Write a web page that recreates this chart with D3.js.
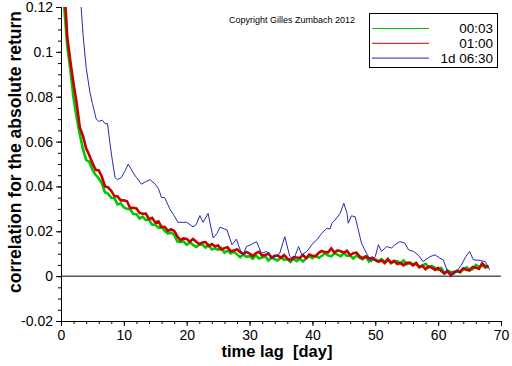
<!DOCTYPE html>
<html>
<head>
<meta charset="utf-8">
<script src="https://cdn.jsdelivr.net/npm/d3@7"></script>
<style>
body { margin: 0; background: #fff; }
svg { display: block; font-family: "Liberation Sans", Arial, sans-serif; }
</style>
</head>
<body>
<svg></svg>
<script>
// lag grid of the two fine series, in days
var lagStart = 0.5, lagStep = 0.5;

// 00:03 series (green)
var green = [
0.1203,0.1025,0.0918,0.0793,0.0706,0.0631,0.0566,0.0518,0.0510,0.0475,
0.0452,0.0436,0.0414,0.0374,0.0367,0.0349,0.0347,0.0320,0.0325,0.0306,
0.0300,0.0298,0.0277,0.0276,0.0257,0.0265,0.0250,0.0252,0.0229,0.0229,
0.0217,0.0221,0.0202,0.0190,0.0194,0.0185,0.0155,0.0152,0.0155,0.0140,
0.0151,0.0139,0.0130,0.0140,0.0141,0.0128,0.0139,0.0119,0.0124,0.0118,
0.0126,0.0105,0.0114,0.0101,0.0109,0.0097,0.0084,0.0097,0.0086,0.0089,
0.0078,0.0093,0.0079,0.0083,0.0089,0.0070,0.0083,0.0075,0.0070,0.0085,
0.0073,0.0075,0.0063,0.0078,0.0067,0.0078,0.0065,0.0079,0.0089,0.0080,
0.0092,0.0081,0.0091,0.0102,0.0092,0.0088,0.0102,0.0096,0.0088,0.0103,
0.0090,0.0092,0.0079,0.0092,0.0081,0.0075,0.0087,0.0065,0.0077,0.0074,
0.0068,0.0076,0.0062,0.0076,0.0057,0.0065,0.0067,0.0057,0.0070,0.0053,
0.0060,0.0052,0.0059,0.0042,0.0048,0.0055,0.0039,0.0045,0.0037,0.0028,
0.0036,0.0013,0.0019,0.0020,0.0012,0.0025,0.0016,0.0030,0.0039,0.0030,
0.0031,0.0050,0.0041,0.0048,0.0038,0.0047
];

// 01:00 series (red)
var red = [
0.1306,0.1067,0.0956,0.0857,0.0771,0.0662,0.0625,0.0570,0.0539,0.0505,
0.0474,0.0471,0.0443,0.0400,0.0396,0.0380,0.0357,0.0355,0.0338,0.0338,
0.0334,0.0304,0.0305,0.0302,0.0282,0.0278,0.0279,0.0254,0.0260,0.0239,
0.0244,0.0219,0.0220,0.0202,0.0209,0.0202,0.0178,0.0161,0.0168,0.0166,
0.0153,0.0166,0.0153,0.0143,0.0150,0.0152,0.0134,0.0143,0.0133,0.0137,
0.0118,0.0125,0.0129,0.0111,0.0114,0.0120,0.0107,0.0099,0.0108,0.0101,
0.0090,0.0102,0.0108,0.0092,0.0094,0.0101,0.0083,0.0091,0.0092,0.0082,
0.0094,0.0079,0.0071,0.0085,0.0083,0.0082,0.0094,0.0080,0.0096,0.0091,
0.0088,0.0104,0.0112,0.0107,0.0106,0.0124,0.0105,0.0115,0.0111,0.0104,
0.0113,0.0093,0.0102,0.0105,0.0088,0.0080,0.0088,0.0078,0.0082,0.0071,
0.0064,0.0071,0.0058,0.0075,0.0060,0.0068,0.0054,0.0059,0.0048,0.0059,
0.0059,0.0048,0.0057,0.0039,0.0046,0.0031,0.0043,0.0038,0.0028,0.0037,
0.0023,0.0012,0.0024,0.0003,0.0019,0.0022,0.0020,0.0035,0.0028,0.0025,
0.0041,0.0038,0.0032,0.0057,0.0044,0.0041
];

// 1d 06:30 series (blue)
var blueLag = [3.0,3.5,4.0,4.6,5.0,5.6,6.0,6.6,7.0,7.4,7.8,8.2,8.6,9.0,9.6,10.2,10.7,11.1,11.5,12.0,
12.8,13.4,14.2,15.0,15.5,16.0,16.5,17.3,18.0,18.6,19.3,20.0,21.0,21.5,22.1,22.6,23.4,24.2,24.8,25.3,
26.0,26.4,27.2,27.9,28.5,29.0,29.5,30.2,31.1,31.9,32.7,33.8,34.8,35.6,36.4,37.0,37.8,38.3,39.1,40.1,
40.7,41.5,42.3,42.8,43.1,43.6,44.4,45.0,45.5,45.7,46.2,46.8,47.3,47.8,48.6,49.4,50.0,50.5,51.0,51.8,
52.6,53.1,53.9,54.7,55.3,56.1,56.8,57.6,58.7,59.5,60.3,60.8,61.6,62.1,62.9,63.7,64.4,65.0,65.6,66.7,
67.5,68.2];
var blue = [0.128,0.108,0.093,0.082,0.077,0.070,0.069,0.0695,0.068,0.068,0.059,0.051,0.044,0.043,0.044,0.047,0.050,0.048,0.046,0.044,
0.041,0.042,0.043,0.041,0.039,0.035,0.035,0.030,0.027,0.024,0.024,0.024,0.022,0.023,0.027,0.024,0.028,0.017,0.019,0.0218,
0.021,0.0206,0.014,0.0165,0.0117,0.0096,0.0132,0.014,0.0154,0.0102,0.011,0.008,0.0102,0.0176,0.0088,0.0073,0.0132,0.0095,0.011,0.0147,
0.0162,0.0191,0.0214,0.021,0.0236,0.025,0.028,0.0325,0.028,0.0236,0.0269,0.0265,0.0206,0.0147,0.0102,0.0065,0.0087,0.014,0.011,0.0132,
0.0125,0.014,0.0154,0.0147,0.0117,0.011,0.0095,0.0065,0.0087,0.0095,0.008,0.0073,0.0013,0.0001,0.002,0.005,0.0087,0.011,0.0073,0.007,
0.0065,0.0028];

var seriesNames = ["00:03", "01:00", "1d 06:30"];
var seriesColors = ["#00c800", "#c80000", "#2828b4"];
var xTicks = [0, 10, 20, 30, 40, 50, 60, 70];
var yTicks = [-0.02, 0, 0.02, 0.04, 0.06, 0.08, 0.1, 0.12];

var screen = {width: 512, height: 366};
var plot = {left: 61, right: 501, top: 7, bottom: 321};

var svg = d3.select("svg")
    .attr("width", screen.width)
    .attr("height", screen.height);

var xScale = d3.scaleLinear().domain([0, 70]).range([plot.left, plot.right]);
var yScale = d3.scaleLinear().domain([-0.02, 0.12]).range([plot.bottom, plot.top]);

svg.append("clipPath").attr("id", "clip")
    .append("rect")
    .attr("x", plot.left).attr("y", plot.top)
    .attr("width", plot.right - plot.left).attr("height", plot.bottom - plot.top);

// minor ticks first, majors drawn over them
var xMinor = d3.axisBottom(xScale).tickValues(d3.range(0, 70.1, 2)).tickSize(3).tickFormat("");
var yMinor = d3.axisLeft(yScale).tickValues(d3.range(-0.02, 0.1201, 0.005)).tickSize(3).tickFormat("");
var xAxis = d3.axisBottom(xScale).tickValues(xTicks).tickSize(5).tickPadding(4).tickFormat(d3.format("d"));
var yAxis = d3.axisLeft(yScale).tickValues(yTicks).tickSize(5).tickPadding(3)
    .tickFormat(function(d){ return d == 0 ? "0" : String(+d.toFixed(2)); });

svg.append("g").attr("transform", "translate(0," + plot.bottom + ")").call(xMinor);
svg.append("g").attr("transform", "translate(" + plot.left + ",0)").call(yMinor);
svg.append("g").attr("class", "axis").attr("transform", "translate(0," + plot.bottom + ")").call(xAxis);
svg.append("g").attr("class", "axis").attr("transform", "translate(" + plot.left + ",0)").call(yAxis);

svg.selectAll(".domain").attr("stroke", "#000");
svg.selectAll(".tick line").attr("stroke", "#000");
svg.selectAll(".axis text")
    .attr("font-family", "Liberation Sans, Arial, sans-serif")
    .attr("font-size", 14)
    .attr("fill", "#000");

// zero line
svg.append("line")
    .attr("x1", plot.left).attr("x2", plot.right)
    .attr("y1", yScale(0)).attr("y2", yScale(0))
    .attr("stroke", "#000").attr("stroke-width", 1);

var lineGen = d3.line()
    .x(function(d){ return xScale(d[0]); })
    .y(function(d){ return yScale(d[1]); });

var g = svg.append("g").attr("clip-path", "url(#clip)");

g.append("path")
    .datum(green.map(function(v, i){ return [lagStart + i * lagStep, v]; }))
    .attr("d", lineGen).attr("fill", "none")
    .attr("stroke", seriesColors[0]).attr("stroke-width", 2.6);

g.append("path")
    .datum(red.map(function(v, i){ return [lagStart + i * lagStep, v]; }))
    .attr("d", lineGen).attr("fill", "none")
    .attr("stroke", seriesColors[1]).attr("stroke-width", 2.6);

g.append("path")
    .datum(blue.map(function(v, i){ return [blueLag[i], v]; }))
    .attr("d", lineGen).attr("fill", "none")
    .attr("stroke", seriesColors[2]).attr("stroke-width", 1);

// axis titles
svg.append("text")
    .attr("x", 277).attr("y", 357)
    .attr("text-anchor", "middle")
    .attr("font-size", 16.5).attr("font-weight", "bold")
    .attr("xml:space", "preserve")
    .text("time lag  [day]");

svg.append("text")
    .attr("transform", "translate(21,152) rotate(-90)")
    .attr("text-anchor", "middle")
    .attr("font-size", 17.5).attr("font-weight", "bold")
    .text("correlation for the absolute return");

svg.append("text")
    .attr("x", 229).attr("y", 22.5)
    .attr("font-size", 9)
    .text("Copyright Gilles Zumbach 2012");

// legend
var legend = svg.append("g");
legend.append("rect")
    .attr("x", 369.5).attr("y", 13.5).attr("width", 128).attr("height", 54)
    .attr("fill", "#fff").attr("stroke", "#000");
var rows = legend.selectAll(".row").data(seriesNames).enter().append("g")
    .attr("transform", function(d, i){ return "translate(0," + (28.5 + i * 14.8) + ")"; });
rows.append("line")
    .attr("x1", 372).attr("x2", 429).attr("y1", 0).attr("y2", 0)
    .attr("stroke", function(d, i){ return seriesColors[i]; });
rows.append("text")
    .attr("x", 493).attr("y", 4.5)
    .attr("text-anchor", "end").attr("font-size", 13.5)
    .text(function(d){ return d; });
</script>
</body>
</html>
